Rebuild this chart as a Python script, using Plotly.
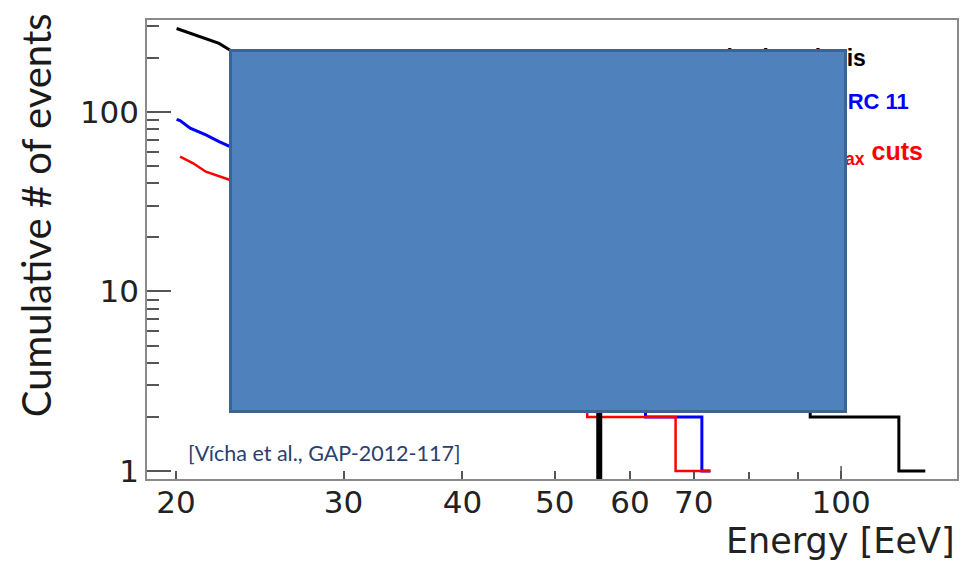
import plotly.graph_objects as go

# ---- data ----
black_E = [20.03, 20.7, 21.5, 22.2, 22.8, 30, 40, 50, 60, 70, 80, 92.8, 92.8, 115, 115, 122.6]
black_N = [292, 274, 254, 241, 221, 125, 62, 33, 16, 8, 3, 3, 2, 2, 1, 1]

blue_E = [20.03, 20.2, 20.7, 21.5, 22.2, 22.8, 30, 40, 50, 58, 62.3, 62.3, 71.4, 71.4, 72.9]
blue_N = [91, 89.5, 81.2, 74.5, 68.4, 64.1, 30, 14, 7, 3, 3, 2, 2, 1, 1]

red_E = [20.2, 20.35, 20.85, 21.5, 22.2, 22.8, 30, 40, 48, 54.1, 54.1, 67, 67, 72.9]
red_N = [56.4, 55.2, 51.8, 46.5, 44, 41.8, 23, 11, 3, 3, 2, 2, 1, 1]

threshold_E = [55.7, 55.7]
threshold_N = [0.5, 50]

x_tickvals = [20, 30, 40, 50, 60, 70, 100]
x_ticktext = ["20", "30", "40", "50", "60", "70", "100"]
x_minor = [80, 90]
y_tickvals = [1, 10, 100]
y_ticktext = ["1", "10", "100"]
y_minor = [2, 3, 4, 5, 6, 7, 8, 9, 20, 30, 40, 50, 60, 70, 80, 90, 200, 300]

legend_labels = ["Standard analysis", "Auger ICRC 11", "With X<sub>max</sub> cuts"]
legend_colors = ["#000000", "#0000ff", "#ff0000"]

fig = go.Figure()
fig.add_trace(go.Scatter(x=blue_E, y=blue_N, mode="lines",
                         line=dict(color="#0000ff", width=3), hoverinfo="skip"))
fig.add_trace(go.Scatter(x=red_E, y=red_N, mode="lines",
                         line=dict(color="#ff0000", width=2.5), hoverinfo="skip"))
fig.add_trace(go.Scatter(x=black_E, y=black_N, mode="lines",
                         line=dict(color="#000000", width=3), hoverinfo="skip"))
fig.add_trace(go.Scatter(x=threshold_E, y=threshold_N, mode="lines",
                         line=dict(color="#000000", width=6), hoverinfo="skip"))

W, H = 961, 562
L, R, T, B = 147, 2, 20, 83
pw, ph = W - L - R, H - T - B


def px(xp):
    return (xp - L) / pw


def py(yp):
    return (H - B - yp) / ph


fig.update_layout(
    width=W, height=H,
    margin=dict(l=L, r=R, t=T, b=B, pad=0),
    paper_bgcolor="white", plot_bgcolor="white",
    showlegend=False,
)

fig.update_xaxes(
    type="log", range=[1.2706, 2.1218],
    showline=True, linecolor="#8a8a8a", linewidth=1.5, mirror=True,
    ticks="inside", ticklen=8, tickwidth=1.5, tickcolor="#555555",
    tickvals=x_tickvals, ticktext=x_ticktext,
    tickfont=dict(family="DejaVu Sans", size=31, color="#222222"),
    ticklabelstandoff=-5,
    showgrid=False, zeroline=False,
    minor=dict(tickvals=x_minor, ticks="inside", ticklen=7, tickwidth=1.5,
               tickcolor="#555555", showgrid=False),
)
fig.update_yaxes(
    type="log", range=[-0.0448, 2.5126],
    showline=True, linecolor="#8a8a8a", linewidth=1.5, mirror=True,
    ticks="inside", ticklen=24, tickwidth=1.5, tickcolor="#555555",
    tickvals=y_tickvals, ticktext=y_ticktext,
    tickfont=dict(family="DejaVu Sans", size=31, color="#222222"),
    showgrid=False, zeroline=False,
    minor=dict(tickvals=y_minor, ticks="inside", ticklen=12, tickwidth=1.5,
               tickcolor="#555555", showgrid=False),
)

# longer major tick at 100 on the x axis
fig.add_shape(type="line", xref="x", yref="paper", x0=100, x1=100, y0=0, y1=13 / ph,
              line=dict(color="#555555", width=1.5))

ann = []
ann.append(dict(text="Cumulative # of events", textangle=-90, xref="paper", yref="paper",
                x=px(36), y=py(215), xanchor="center", yanchor="middle", showarrow=False,
                font=dict(family="Lato", size=40, color="#1a1a1a")))
ann.append(dict(text="Energy [EeV]", xref="paper", yref="paper",
                x=px(959), y=py(541), xanchor="right", yanchor="middle", showarrow=False,
                font=dict(family="DejaVu Sans", size=35, color="#222222")))
ann.append(dict(text="[Vícha et al., GAP-2012-117]", xref="paper", yref="paper",
                x=px(186), y=py(453), xanchor="left", yanchor="middle", showarrow=False,
                font=dict(family="Lato", size=21.5, color="#2a4170")))
legend_pos = [(870, 58, 23), (913, 102, 22), (927, 153, 25)]
for lab, col, (xr, yc, fs) in zip(legend_labels, legend_colors, legend_pos):
    ann.append(dict(text=lab, xref="paper", yref="paper", x=px(xr), y=py(yc),
                    xanchor="right", yanchor="middle", showarrow=False,
                    font=dict(family="Liberation Sans", size=fs, color=col, weight="bold")))
# overlay box (drawn last so it covers the labels beneath)
bx0, bx1, by0, by1 = 230, 848, 49, 413
ann.append(dict(text=" ", xref="paper", yref="paper",
                x=px((bx0 + bx1) / 2), y=py((by0 + by1) / 2),
                xanchor="center", yanchor="middle", showarrow=False,
                width=bx1 - bx0 - 6, height=by1 - by0 - 6,
                bgcolor="#4F81BD", bordercolor="#3B6494", borderwidth=3, borderpad=0))
fig.update_layout(annotations=ann)

fig.write_html("out.html")
